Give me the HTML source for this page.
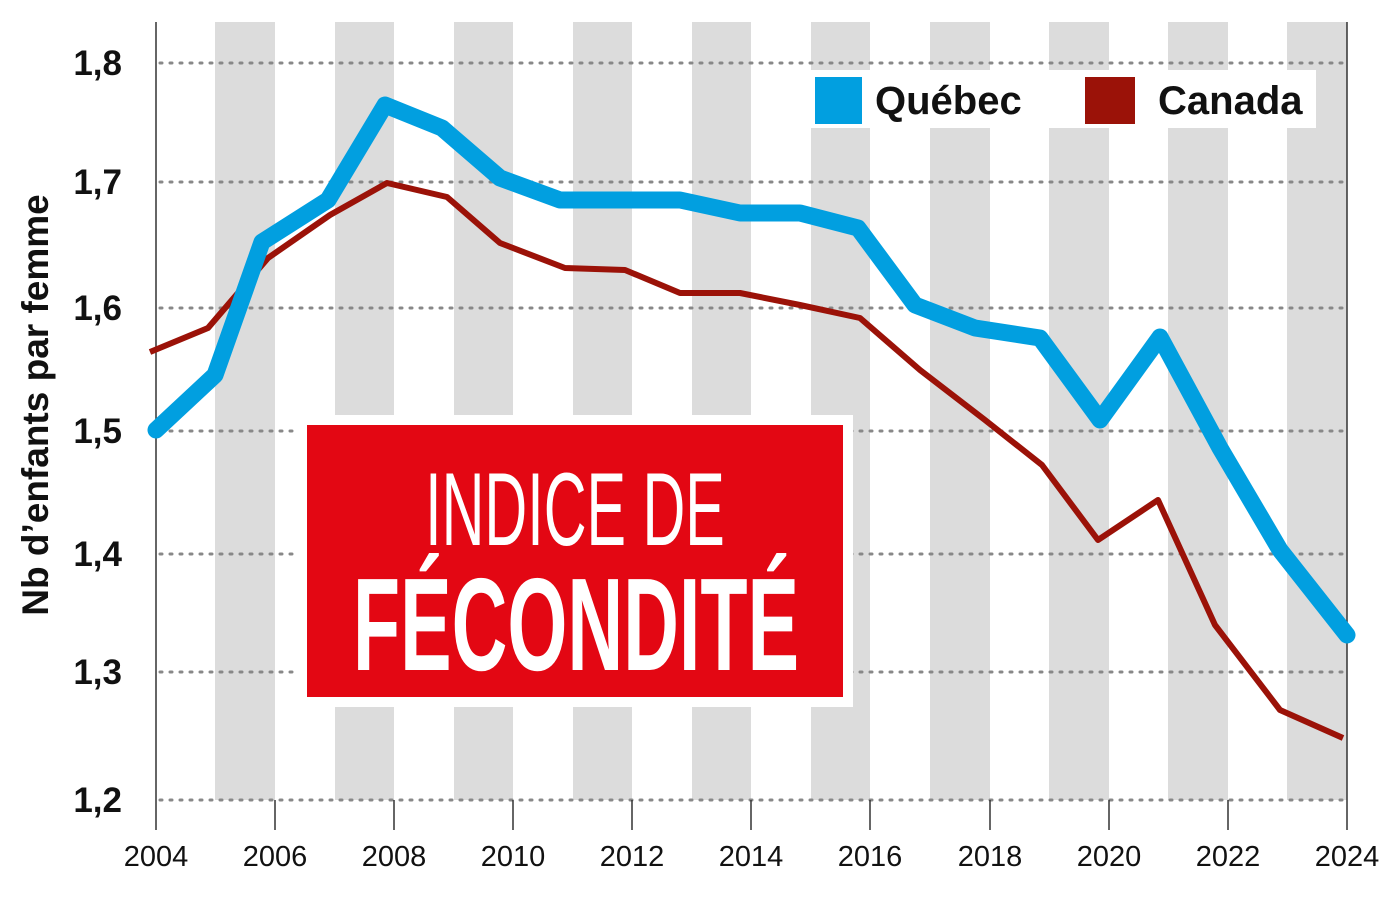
<!DOCTYPE html>
<html><head><meta charset="utf-8"><style>
body{margin:0;background:#fff;width:1400px;height:900px;overflow:hidden}
svg{display:block}
text{font-family:"Liberation Sans",sans-serif}
</style></head><body>
<svg width="1400" height="900" viewBox="0 0 1400 900">
<g fill="#dcdcdc">
<rect x="215" y="22" width="60" height="778"/>
<rect x="335" y="22" width="59" height="778"/>
<rect x="454" y="22" width="59" height="778"/>
<rect x="573" y="22" width="59" height="778"/>
<rect x="692" y="22" width="59" height="778"/>
<rect x="811" y="22" width="59" height="778"/>
<rect x="930" y="22" width="60" height="778"/>
<rect x="1049" y="22" width="60" height="778"/>
<rect x="1168" y="22" width="60" height="778"/>
<rect x="1287" y="22" width="60" height="778"/>
</g>
<g stroke="#888" stroke-width="3" stroke-dasharray="2,8" stroke-linecap="round">
<line x1="160" y1="63" x2="1350" y2="63"/>
<line x1="160" y1="182" x2="1350" y2="182"/>
<line x1="160" y1="308" x2="1350" y2="308"/>
<line x1="160" y1="431" x2="1350" y2="431"/>
<line x1="160" y1="554" x2="1350" y2="554"/>
<line x1="160" y1="672" x2="1350" y2="672"/>
<line x1="160" y1="800" x2="1350" y2="800"/>
</g>
<g stroke="#333" stroke-width="1.5">
<line x1="156" y1="22" x2="156" y2="830"/>
<line x1="1347" y1="22" x2="1347" y2="830"/>
<line x1="275" y1="800" x2="275" y2="830"/>
<line x1="394" y1="800" x2="394" y2="830"/>
<line x1="513" y1="800" x2="513" y2="830"/>
<line x1="632" y1="800" x2="632" y2="830"/>
<line x1="751" y1="800" x2="751" y2="830"/>
<line x1="870" y1="800" x2="870" y2="830"/>
<line x1="990" y1="800" x2="990" y2="830"/>
<line x1="1109" y1="800" x2="1109" y2="830"/>
<line x1="1228" y1="800" x2="1228" y2="830"/>
</g>
<g font-size="35" font-weight="bold" fill="#111" text-anchor="end">
<text x="122" y="75">1,8</text><text x="122" y="194">1,7</text><text x="122" y="320">1,6</text><text x="122" y="443">1,5</text><text x="122" y="566">1,4</text><text x="122" y="684">1,3</text><text x="122" y="812">1,2</text>
</g>
<text transform="translate(48,405) rotate(-90)" font-size="37" font-weight="bold" fill="#111" text-anchor="middle">Nb d’enfants par femme</text>
<g font-size="29" fill="#111" text-anchor="middle">
<text x="156" y="866">2004</text><text x="275" y="866">2006</text><text x="394" y="866">2008</text><text x="513" y="866">2010</text><text x="632" y="866">2012</text><text x="751" y="866">2014</text><text x="870" y="866">2016</text><text x="990" y="866">2018</text><text x="1109" y="866">2020</text><text x="1228" y="866">2022</text><text x="1347" y="866">2024</text>
</g>
<polyline fill="none" stroke="#9b1208" stroke-width="6" stroke-linejoin="round" points="150,352 208,328 268,258 330,215 387,183 447,197 500,243 565,268 625,270 680,293 740,293 800,305 860,318 920,370 985,420 1042,465 1098,540 1158,500 1215,625 1280,710 1343,738"/>
<polyline fill="none" stroke="#019fe0" stroke-width="17" stroke-linejoin="round" stroke-linecap="round" points="156,430 215,375 262,242 328,200 385,105 442,128 500,178 560,200 620,200 680,200 740,213 800,213 858,228 915,305 975,328 1040,338 1100,420 1160,337 1220,448 1280,550 1347,635"/>
<rect x="800" y="70" width="516" height="58" fill="#fff"/>
<rect x="815" y="77" width="47" height="47" fill="#019fe0"/>
<text x="875" y="114" font-size="40" font-weight="bold" fill="#111">Québec</text>
<rect x="1085" y="77" width="50" height="47" fill="#9b1208"/>
<text x="1158" y="114" font-size="40" font-weight="bold" fill="#111">Canada</text>
<rect x="297" y="415" width="556" height="292" fill="#fff"/>
<rect x="307" y="425" width="536" height="272" fill="#e30713"/>
<text x="575" y="545" font-size="104" fill="#fff" text-anchor="middle" transform="translate(575,0) scale(0.57,1) translate(-575,0)">INDICE DE</text>
<text x="576" y="670" font-size="132" font-weight="bold" fill="#fff" text-anchor="middle" transform="translate(576,0) scale(0.585,1) translate(-576,0)">FÉCONDITÉ</text>
</svg>
</body></html>
